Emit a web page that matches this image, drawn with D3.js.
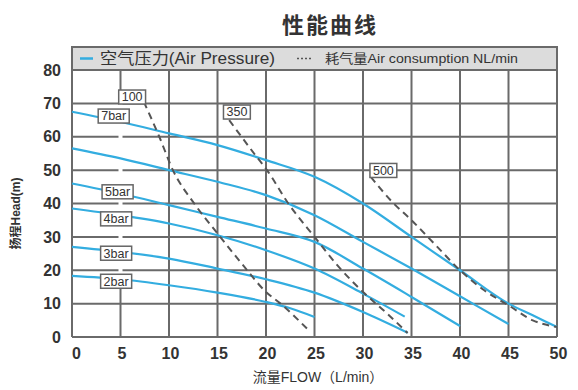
<!DOCTYPE html>
<html>
<head>
<meta charset="utf-8">
<script src="https://cdn.jsdelivr.net/npm/d3@7"></script>
<style>
  body { margin: 0; background: #fff; }
  text { font-family: "Liberation Sans", Arial, "Noto Sans CJK SC", sans-serif; }
</style>
</head>
<body>
<div id="chart"></div>
<script>
// axis ticks
const xTicks = [0, 5, 10, 15, 20, 25, 30, 35, 40, 45, 50];
const yTicks = [0, 10, 20, 30, 40, 50, 60, 70, 80];

// air pressure curves (flow L/min, head m)
const bar2Flow = [0, 5, 10, 15, 20, 22.5, 25];
const bar2Head = [18.3, 17.3, 15.5, 13.3, 10.5, 8.6, 6];
const bar3Flow = [0, 5, 10, 15, 20, 25, 30, 34.6];
const bar3Head = [27, 25.5, 23.5, 20.5, 17.3, 13.3, 7.5, 1.3];
const bar4Flow = [0, 5, 10, 15, 20, 25, 30, 34.3];
const bar4Head = [38.5, 36.5, 34, 30.5, 26, 20.5, 13, 6.1];
const bar5Flow = [0, 5, 10, 15, 20, 25, 30, 35, 40];
const bar5Head = [46, 43, 39.5, 36, 32.5, 28.5, 20.5, 12, 3.3];
const bar6Flow = [0, 5, 10, 15, 20, 25, 30, 35, 40, 45];
const bar6Head = [56.5, 53.5, 50, 46.5, 42.5, 36.5, 28.5, 20.5, 12.2, 3.9];
const bar7Flow = [0, 5, 10, 15, 20, 25, 30, 35, 40, 45, 47.5, 50];
const bar7Head = [67.5, 64.5, 61, 57.5, 53, 48, 40, 30, 20, 10, 6.5, 3];

// air consumption curves (NL/min)
const c100Flow = [7.4, 9, 10.4, 12.6, 15, 17.5, 20, 21.5, 24.4];
const c100Head = [70.5, 60, 50, 40, 31, 22, 13.5, 10, 2];
const c350Flow = [16.2, 18.9, 20.1, 22.3, 25, 27.5, 30, 32.5, 34.6];
const c350Head = [65, 54.5, 50, 40, 30, 21, 13.5, 7, 1.2];
const c500Flow = [30.8, 33, 35, 37.5, 40, 42.5, 45, 47.5, 50];
const c500Head = [48, 40.5, 35, 27.5, 20, 14, 9.5, 5, 3];

// boxed labels
const labelText = ["100", "350", "500", "7bar", "5bar", "4bar", "3bar", "2bar"];
const labelFlow = [6.2, 17, 32.1, 4.3, 4.7, 4.55, 4.55, 4.55];
const labelHead = [71.9, 67.4, 49.9, 66.2, 43.5, 35.4, 25.1, 16.7];

const pressureCurves = [
  [bar2Flow, bar2Head], [bar3Flow, bar3Head], [bar4Flow, bar4Head],
  [bar5Flow, bar5Head], [bar6Flow, bar6Head], [bar7Flow, bar7Head]
];
const airCurves = [[c100Flow, c100Head], [c350Flow, c350Head], [c500Flow, c500Head]];

const width = 578, height = 390;
const margin = {top: 70, right: 21, bottom: 53, left: 72};
const gridColor = "#6a6a6a", blue = "#33ade0";

const svg = d3.select("#chart").append("svg")
  .attr("width", width)
  .attr("height", height);

const x = d3.scaleLinear().domain([0, 50]).range([margin.left, width - margin.right]);
const y = d3.scaleLinear().domain([0, 80]).range([height - margin.bottom, margin.top]);

// title
svg.append("text")
  .attr("x", 330).attr("y", 33)
  .attr("text-anchor", "middle")
  .attr("font-family", "Noto Sans CJK SC")
  .attr("font-size", 22).attr("font-weight", "bold")
  .attr("letter-spacing", 2)
  .attr("fill", "#333")
  .text("性能曲线");

// legend band
svg.append("rect")
  .attr("x", x(0)).attr("y", margin.top - 23)
  .attr("width", x(50) - x(0)).attr("height", 23)
  .attr("fill", "#dcdcdc").attr("stroke", gridColor).attr("stroke-width", 2);

const legY = margin.top - 11.5;
svg.append("line")
  .attr("x1", 80).attr("x2", 93).attr("y1", legY).attr("y2", legY)
  .attr("stroke", blue).attr("stroke-width", 2.5);
svg.append("text")
  .attr("x", 100).attr("y", legY + 5)
  .attr("font-size", 16).attr("fill", "#333")
  .attr("textLength", 175).attr("lengthAdjust", "spacingAndGlyphs")
  .text("空气压力(Air Pressure)");
svg.append("line")
  .attr("x1", 297).attr("x2", 313).attr("y1", legY).attr("y2", legY)
  .attr("stroke", "#555").attr("stroke-width", 1.5).attr("stroke-dasharray", "2,2");
svg.append("text")
  .attr("x", 325).attr("y", legY + 4.5)
  .attr("font-size", 13).attr("fill", "#333")
  .attr("textLength", 193).attr("lengthAdjust", "spacingAndGlyphs")
  .text("耗气量Air consumption NL/min");

// grid
const grid = svg.append("g");
grid.selectAll(".vgrid").data(xTicks).enter().append("line")
  .attr("x1", d => x(d)).attr("x2", d => x(d))
  .attr("y1", y(80)).attr("y2", y(0))
  .attr("stroke", gridColor).attr("stroke-width", 2);
grid.selectAll(".hgrid").data(yTicks).enter().append("line")
  .attr("x1", x(0)).attr("x2", x(50))
  .attr("y1", d => y(d)).attr("y2", d => y(d))
  .attr("stroke", gridColor).attr("stroke-width", 2);

// the 5 L/min grid line is blanked behind the label column
grid.append("rect")
  .attr("x", x(5) - 2).attr("width", 4)
  .attr("y", y(d3.max(labelHead)) + 7)
  .attr("height", y(d3.min(labelHead)) - y(d3.max(labelHead)))
  .attr("fill", "#fff");

// axis tick labels
svg.append("g")
  .attr("transform", "translate(0," + y(0) + ")")
  .call(d3.axisBottom(x).tickValues(xTicks).tickSize(0).tickPadding(11))
  .call(g => g.select(".domain").remove())
  .selectAll("text")
  .attr("font-family", "Liberation Sans").attr("font-size", 16)
  .attr("font-weight", "bold").attr("fill", "#333")
  .attr("dx", d => d === 0 ? 4 : 1);

svg.append("g")
  .attr("transform", "translate(" + x(0) + ",0)")
  .call(d3.axisLeft(y).tickValues(yTicks).tickSize(0).tickPadding(11))
  .call(g => g.select(".domain").remove())
  .selectAll("text")
  .attr("font-family", "Liberation Sans").attr("font-size", 16)
  .attr("font-weight", "bold").attr("fill", "#333");

// axis titles
svg.append("text")
  .attr("x", 318).attr("y", 382)
  .attr("text-anchor", "middle")
  .attr("font-size", 14).attr("fill", "#333")
  .text("流量FLOW（L/min）");
svg.append("text")
  .attr("transform", "translate(20," + y(37) + ") rotate(-90)")
  .attr("text-anchor", "middle")
  .attr("font-size", 12).attr("font-weight", "bold").attr("fill", "#333")
  .text("扬程Head(m)");

// curves
const line = d3.line()
  .x(d => x(d[0]))
  .y(d => y(d[1]))
  .curve(d3.curveMonotoneX);

svg.selectAll(".pressure").data(pressureCurves).enter().append("path")
  .attr("d", c => line(c[0].map((f, i) => [f, c[1][i]])))
  .attr("fill", "none").attr("stroke", blue).attr("stroke-width", 2.2);

svg.selectAll(".air").data(airCurves).enter().append("path")
  .attr("d", c => line(c[0].map((f, i) => [f, c[1][i]])))
  .attr("fill", "none").attr("stroke", "#555").attr("stroke-width", 2)
  .attr("stroke-dasharray", "7,5");

// boxed labels
const lab = svg.selectAll(".lab").data(labelText).enter().append("g")
  .attr("transform", (d, i) => "translate(" + x(labelFlow[i]) + "," + y(labelHead[i]) + ")");
lab.append("rect").attr("class", "box");
lab.append("text")
  .attr("text-anchor", "middle").attr("dy", "0.35em")
  .attr("font-family", "DejaVu Sans").attr("font-size", 12.5).attr("fill", "#333")
  .text(d => d);
lab.each(function () {
  const g = d3.select(this);
  const w = g.select("text").node().getComputedTextLength() + 6;
  g.select("rect")
    .attr("x", -w / 2).attr("y", -7).attr("width", w).attr("height", 14)
    .attr("fill", "#fff").attr("stroke", "#666").attr("stroke-width", 1.5);
});
</script>
</body>
</html>
